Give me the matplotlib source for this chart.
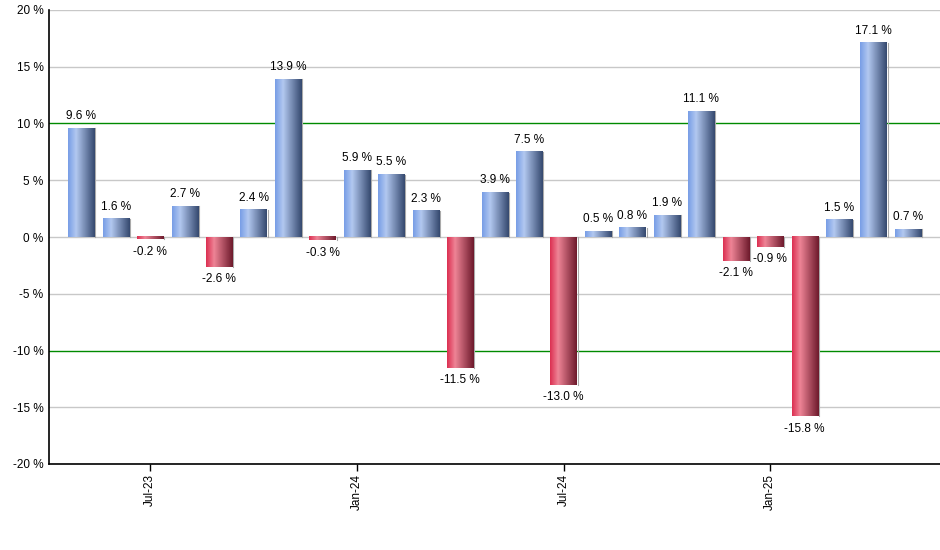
import matplotlib.pyplot as plt
import numpy as np
from matplotlib.colors import LinearSegmentedColormap

# monthly returns, May-23 .. May-25
months = ['May-23', 'Jun-23', 'Jul-23', 'Aug-23', 'Sep-23', 'Oct-23', 'Nov-23', 'Dec-23',
          'Jan-24', 'Feb-24', 'Mar-24', 'Apr-24', 'May-24', 'Jun-24', 'Jul-24', 'Aug-24',
          'Sep-24', 'Oct-24', 'Nov-24', 'Dec-24', 'Jan-25', 'Feb-25', 'Mar-25', 'Apr-25', 'May-25']
returns = [9.6, 1.6, -0.2, 2.7, -2.6, 2.4, 13.9, -0.3, 5.9, 5.5, 2.3, -11.5, 3.9, 7.5,
           -13.0, 0.5, 0.8, 1.9, 11.1, -2.1, -0.9, -15.8, 1.5, 17.1, 0.7]
tick_labels = ['Jul-23', 'Jan-24', 'Jul-24', 'Jan-25']
y_ticks = [-20, -15, -10, -5, 0, 5, 10, 15, 20]

plt.rcParams['font.family'] = ['Liberation Sans', 'DejaVu Sans']

blue_cm = LinearSegmentedColormap.from_list('b', [(0, '#789ee6'), (0.3, '#b2c8f0'), (1, '#35496f')])
red_cm = LinearSegmentedColormap.from_list('r', [(0, '#dc3052'), (0.3, '#ee8496'), (1, '#6e1a2c')])
grad = np.linspace(0, 1, 64).reshape(1, -1)

fig = plt.figure(figsize=(9.4, 5.5), dpi=100)
ax = fig.add_axes([49/940, 86/550, 891/940, 454/550])

x = np.arange(len(returns))
W = 0.76
for i, v in zip(x, returns):
    cm = blue_cm if v >= 0 else red_cm
    ax.imshow(grad, cmap=cm, aspect='auto', extent=[i - W/2, i + W/2, min(0, v), max(0, v)],
              zorder=3, interpolation='bilinear')
    # thin shadow on the right
    ax.plot([i + W/2 + 0.03] * 2, [0, v], color='#aaaaaa', lw=0.8, zorder=2)
    if v >= 0:
        ax.text(i, v + 0.55, f'{v:.1f} %', ha='center', va='bottom', fontsize=8.5, zorder=4)
    else:
        ax.text(i, v - 0.55, f'{v:.1f} %', ha='center', va='top', fontsize=8.5, zorder=4)

for yv in y_ticks:
    if abs(yv) == 10:
        ax.axhline(yv, color='#008a00', lw=1.0, zorder=1)
    else:
        ax.axhline(yv, color='#c8c8c8', lw=1.0, zorder=1)

ax.set_xlim(-0.94, 24.93)
ax.set_ylim(-20, 20)
ax.set_yticks(y_ticks)
ax.set_yticklabels([f'{t} %' for t in y_ticks], fontsize=8.5)
ax.tick_params(axis='y', length=0, pad=4)
ax.set_xticks([months.index(m) for m in tick_labels])
ax.set_xticklabels(tick_labels, rotation=90, fontsize=8.5)
ax.tick_params(axis='x', length=5, width=1, pad=2)
for s in ['top', 'right']:
    ax.spines[s].set_visible(False)
for s in ['left', 'bottom']:
    ax.spines[s].set_linewidth(1.2)

fig.savefig('out.png', dpi=100)
